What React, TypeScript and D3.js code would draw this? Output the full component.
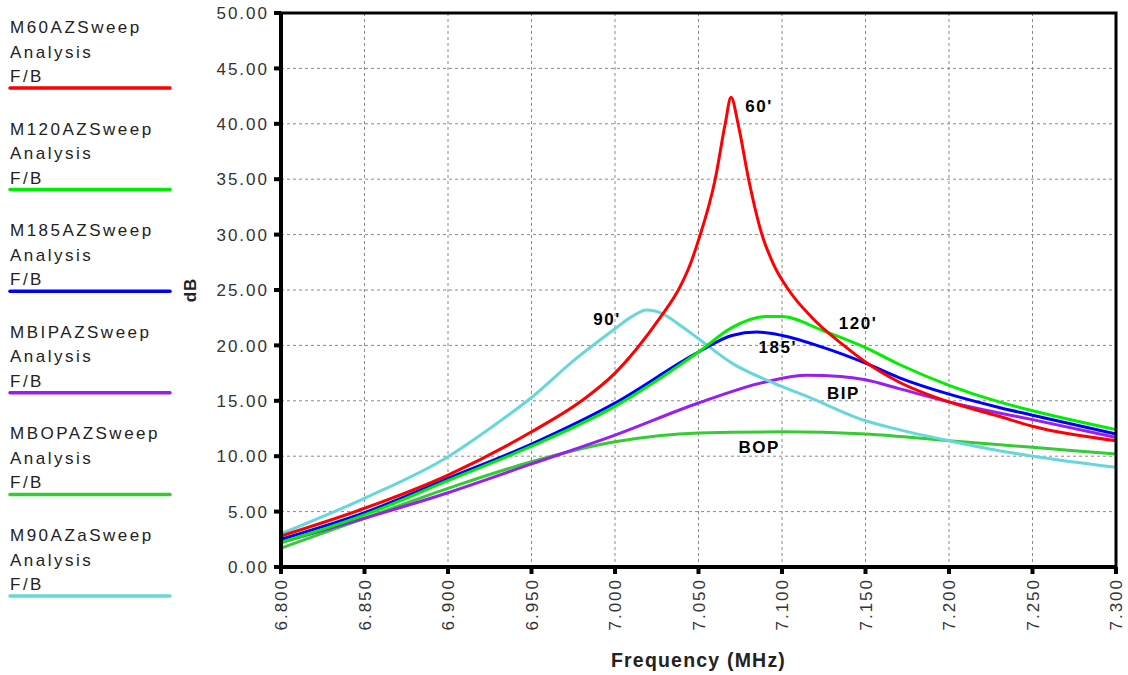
import React from "react";
import * as d3 from "d3";

const W = 1128;
const H = 675;
const M = { left: 281, right: 1116, top: 13, bottom: 567 };

const yTicks = [0, 5, 10, 15, 20, 25, 30, 35, 40, 45, 50];
const xTicks = [6.8, 6.85, 6.9, 6.95, 7.0, 7.05, 7.1, 7.15, 7.2, 7.25, 7.3];

const f60 = [6.8, 6.85, 6.9, 6.95, 6.98, 7.0, 7.013, 7.027, 7.039, 7.045, 7.05, 7.06, 7.066, 7.0695, 7.0737, 7.08, 7.088, 7.095, 7.104, 7.118, 7.137, 7.15, 7.17, 7.2, 7.23, 7.25, 7.3];
const v60 = [2.8, 5.3, 8.3, 12.2, 15.0, 17.5, 19.7, 22.5, 25.3, 27.3, 29.5, 35.0, 40.0, 42.4, 40.0, 35.0, 30.0, 27.3, 25.0, 22.5, 20.0, 18.5, 16.7, 14.9, 13.6, 12.7, 11.4];

const f120 = [6.8, 6.85, 6.9, 6.95, 7.0, 7.05, 7.07, 7.09, 7.1, 7.125, 7.15, 7.17, 7.2, 7.23, 7.25, 7.3];
const v120 = [2.2, 4.7, 7.8, 10.9, 14.5, 19.4, 21.6, 22.6, 22.6, 21.3, 19.8, 18.3, 16.4, 14.9, 14.1, 12.4];

const f185 = [6.8, 6.85, 6.9, 6.95, 7.0, 7.05, 7.07, 7.085, 7.1, 7.125, 7.15, 7.17, 7.2, 7.23, 7.25, 7.3];
const v185 = [2.5, 4.9, 8.0, 11.1, 14.8, 19.4, 20.9, 21.2, 20.9, 19.8, 18.4, 17.1, 15.6, 14.4, 13.7, 12.0];

const fBIP = [6.8, 6.85, 6.9, 6.95, 7.0, 7.05, 7.09, 7.115, 7.135, 7.15, 7.17, 7.2, 7.23, 7.25, 7.3];
const vBIP = [2.2, 4.4, 6.7, 9.3, 11.9, 14.8, 16.7, 17.3, 17.2, 16.9, 16.1, 14.9, 13.9, 13.3, 11.7];

const fBOP = [6.8, 6.85, 6.9, 6.95, 7.0, 7.05, 7.1, 7.15, 7.2, 7.25, 7.3];
const vBOP = [1.7, 4.4, 7.1, 9.5, 11.3, 12.1, 12.2, 12.0, 11.4, 10.8, 10.2];

const f90 = [6.8, 6.85, 6.9, 6.925, 6.95, 6.975, 7.0, 7.01, 7.019, 7.028, 7.04, 7.05, 7.07, 7.095, 7.115, 7.15, 7.17, 7.2, 7.23, 7.25, 7.3];
const v90 = [3.0, 6.2, 9.95, 12.5, 15.3, 18.6, 21.5, 22.6, 23.2, 22.9, 21.7, 20.6, 18.4, 16.6, 15.4, 13.2, 12.4, 11.4, 10.5, 10.0, 9.0];

const seriesNames = ["M60AZSweep", "M120AZSweep", "M185AZSweep", "MBIPAZSweep", "MBOPAZSweep", "M90AZaSweep"];
const seriesColors = ["#ff0000", "#00ee00", "#0000ff", "#9a1ef0", "#33cc33", "#66d8dc"];
const seriesF = [f60, f120, f185, fBIP, fBOP, f90];
const seriesV = [v60, v120, v185, vBIP, vBOP, v90];

const annLabels = ["60'", "120'", "185'", "BIP", "BOP", "90'"];
const annF = [7.078, 7.134, 7.086, 7.127, 7.074, 6.987];
const annV = [41.1, 21.5, 19.3, 15.2, 10.3, 21.8];

const FONT = "'Liberation Sans', Arial, sans-serif";

export default function App() {
  const x = d3.scaleLinear().domain([6.8, 7.3]).range([M.left, M.right]);
  const y = d3.scaleLinear().domain([0, 50]).range([M.bottom, M.top]);
  const line = d3
    .line<[number, number]>()
    .x((d) => x(d[0]))
    .y((d) => y(d[1]))
    .curve(d3.curveMonotoneX);

  const order = [4, 3, 5, 2, 1, 0];

  return (
    <svg width={W} height={H} style={{ position: "absolute", left: 0, top: 0, background: "#fff" }} fontFamily={FONT}>
      {/* grid */}
      {yTicks.slice(1, -1).map((t) => (
        <line key={"gy" + t} x1={M.left} x2={M.right} y1={y(t)} y2={y(t)} stroke="#8a8a8a" strokeWidth={1} strokeDasharray="3,3" />
      ))}
      {xTicks.slice(1, -1).map((t) => (
        <line key={"gx" + t} x1={x(t)} x2={x(t)} y1={M.top} y2={M.bottom} stroke="#8a8a8a" strokeWidth={1} strokeDasharray="3,3" />
      ))}

      {/* series */}
      {order.map((i) => (
        <path
          key={"s" + i}
          d={line(seriesF[i].map((f, k) => [f, seriesV[i][k]] as [number, number])) || ""}
          fill="none"
          stroke={seriesColors[i]}
          strokeWidth={3}
          strokeLinejoin="round"
        />
      ))}

      {/* frame */}
      <rect x={M.left} y={M.top} width={M.right - M.left} height={M.bottom - M.top} fill="none" stroke="#000" strokeWidth={3} />
      <line x1={M.left} x2={M.left} y1={M.top - 1} y2={M.bottom + 1} stroke="#000" strokeWidth={4} />
      <line x1={M.left - 1} x2={M.right + 1} y1={M.bottom} y2={M.bottom} stroke="#000" strokeWidth={4} />

      {/* y ticks */}
      {yTicks.map((t) => (
        <g key={"yt" + t}>
          <line x1={M.left - 7} x2={M.left} y1={y(t)} y2={y(t)} stroke="#000" strokeWidth={4} />
          <text x={M.left - 12} y={y(t)} dy="0.36em" textAnchor="end" fontSize={17} fill="#333" letterSpacing={2}>
            {d3.format(".2f")(t)}
          </text>
        </g>
      ))}

      {/* x ticks */}
      {xTicks.map((t) => (
        <g key={"xt" + t}>
          <line x1={x(t)} x2={x(t)} y1={M.bottom} y2={M.bottom + 7} stroke="#000" strokeWidth={4} />
          <text
            transform={`translate(${x(t)},${M.bottom + 11}) rotate(-90)`}
            textAnchor="end"
            dy="0.36em"
            fontSize={17}
            fill="#333"
            letterSpacing={2}
          >
            {d3.format(".3f")(t)}
          </text>
        </g>
      ))}

      {/* axis titles */}
      <text x={(M.left + M.right) / 2} y={667} textAnchor="middle" fontSize={19.5} fontWeight="bold" fill="#222" letterSpacing={1.2}>
        Frequency (MHz)
      </text>
      <text transform={`translate(196,${(M.top + M.bottom) / 2}) rotate(-90)`} textAnchor="middle" fontSize={17} fontWeight="bold" fill="#222" letterSpacing={1}>
        dB
      </text>

      {/* annotations */}
      {annLabels.map((l, i) => (
        <text key={"a" + i} x={x(annF[i])} y={y(annV[i])} fontSize={17} fontWeight="bold" fill="#000" letterSpacing={1.5}>
          {l}
        </text>
      ))}

      {/* legend */}
      {seriesNames.map((n, i) => {
        const y0 = 33 + i * 101.6;
        return (
          <g key={"l" + i}>
            <text x={10} y={y0} fontSize={17} fill="#222" letterSpacing={2.5}>{n}</text>
            <text x={10} y={y0 + 24.5} fontSize={17} fill="#222" letterSpacing={2.5}>Analysis</text>
            <text x={10} y={y0 + 49} fontSize={17} fill="#222" letterSpacing={2.5}>F/B</text>
            <line x1={10} x2={170} y1={y0 + 55} y2={y0 + 55} stroke={seriesColors[i]} strokeWidth={3.5} strokeLinecap="round" />
          </g>
        );
      })}
    </svg>
  );
}
